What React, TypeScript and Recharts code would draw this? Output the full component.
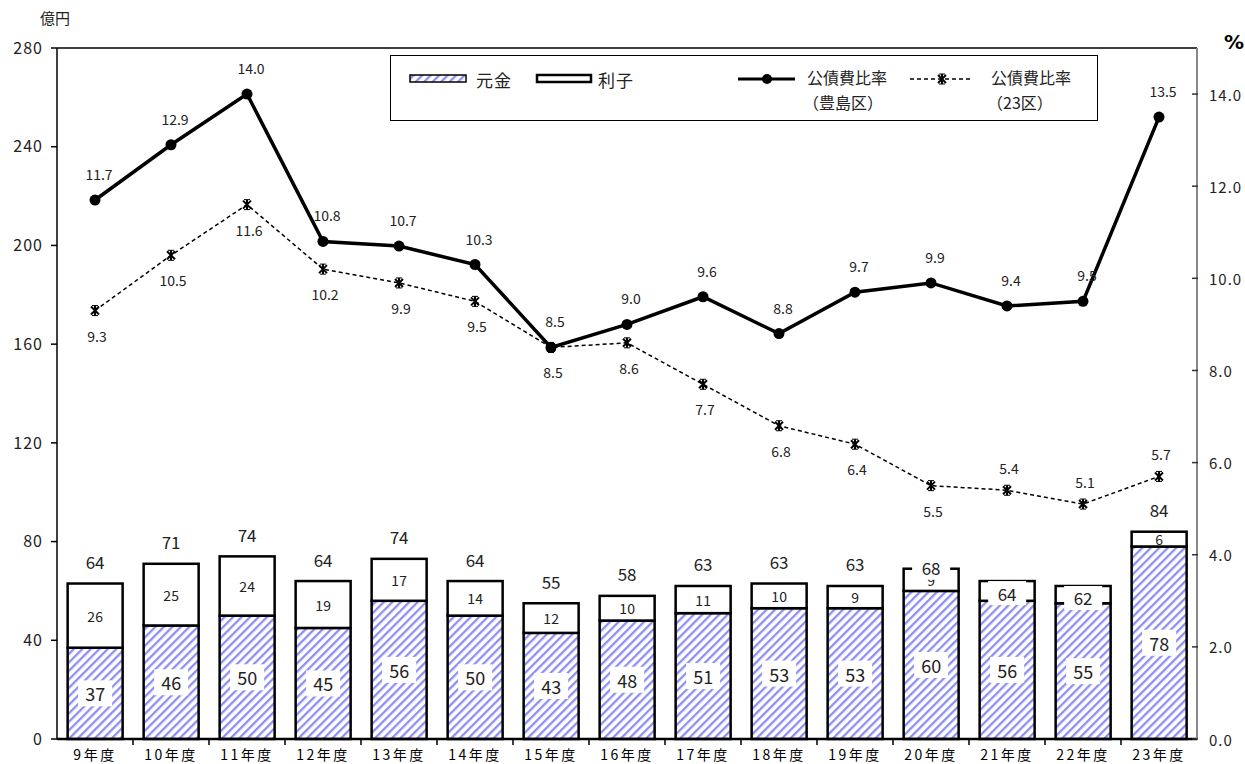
import React from 'react';
import { ComposedChart, Bar, Line, XAxis, YAxis, LabelList, ReferenceLine } from 'recharts';

const years = ['9年度', '10年度', '11年度', '12年度', '13年度', '14年度', '15年度', '16年度', '17年度', '18年度', '19年度', '20年度', '21年度', '22年度', '23年度'];
const principal = [37, 46, 50, 45, 56, 50, 43, 48, 51, 53, 53, 60, 56, 55, 78];
const interest = [26, 25, 24, 19, 17, 14, 12, 10, 11, 10, 9, 9, 8, 7, 6];
const totals = [64, 71, 74, 64, 74, 64, 55, 58, 63, 63, 63, 68, 64, 62, 84];
const toshimaRatio = [11.7, 12.9, 14.0, 10.8, 10.7, 10.3, 8.5, 9.0, 9.6, 8.8, 9.7, 9.9, 9.4, 9.5, 13.5];
const wardsRatio = [9.3, 10.5, 11.6, 10.2, 9.9, 9.5, 8.5, 8.6, 7.7, 6.8, 6.4, 5.5, 5.4, 5.1, 5.7];
const leftTicks = [0, 40, 80, 120, 160, 200, 240, 280];
const rightTicks = [0, 2, 4, 6, 8, 10, 12, 14];

const data = years.map((year, i) => ({
  year,
  principal: principal[i],
  interest: interest[i],
  total: totals[i],
  toshima: toshimaRatio[i],
  wards: wardsRatio[i],
}));

const W = 1245;
const H = 764;
const LEFT_W = 57;
const RIGHT_W = 48;
const TOP = 48;
const XH = 25;
const HALF_BAND = (W - LEFT_W - RIGHT_W) / years.length / 2;
const FONT = "'Noto Sans CJK JP', 'DejaVu Sans', sans-serif";
const HATCH = '#8f8ff2';

// total labels drawn in a white box on the bar top (offset from bar top)
const BOXED_TOTAL: Record<number, number> = { 11: -1, 12: 12, 13: 12 };

const XTick = (props: any) => {
  const { x, y, payload, index } = props;
  return (
    <g>
      <text x={x} y={y + 15} textAnchor="middle" dominantBaseline="central" fontSize={14} letterSpacing={2.5} fill="#000" fontFamily={FONT}>
        {payload.value}
      </text>
      {index < years.length - 1 && (
        <line x1={x + HALF_BAND} y1={y} x2={x + HALF_BAND} y2={y + 6} stroke="#000" strokeWidth={1.5} />
      )}
    </g>
  );
};

const RightTick = (props: any) => {
  const { x, y, payload } = props;
  return (
    <g>
      <line x1={x - 5} y1={y} x2={x + 1} y2={y} stroke="#333" strokeWidth={1.5} />
      <text x={x + 12} y={y} dominantBaseline="central" fontSize={15} letterSpacing={1} fill="#222" fontFamily={FONT}>
        {Number(payload.value).toFixed(1)}
      </text>
    </g>
  );
};

const BarRect = (props: any) => {
  const { x, y, width, height, fill } = props;
  if (x == null || height == null) return null;
  return <rect x={x} y={y} width={width} height={height} fill={fill} stroke="#000" strokeWidth={2.5} />;
};

const PrincipalLabel = (props: any) => {
  const { x, y, width, height, value } = props;
  const cx = x + width / 2;
  const cy = y + height / 2;
  return (
    <g>
      <rect x={cx - 17} y={cy - 13} width={34} height={26} fill="#fff" />
      <text x={cx} y={cy} textAnchor="middle" dominantBaseline="central" fontSize={18} fill="#222" fontFamily={FONT}>
        {value}
      </text>
    </g>
  );
};

const InterestLabel = (props: any) => {
  const { x, y, width, height, value, index } = props;
  if (BOXED_TOTAL[index] !== undefined && BOXED_TOTAL[index] > 0) return null;
  return (
    <text x={x + width / 2} y={y + height / 2} textAnchor="middle" dominantBaseline="central" fontSize={14} fill="#222" fontFamily={FONT}>
      {value}
    </text>
  );
};

const TotalLabel = (props: any) => {
  const { x, y, width, index } = props;
  const cx = x + width / 2;
  const t = totals[index];
  if (BOXED_TOTAL[index] !== undefined) {
    const cy = y + BOXED_TOTAL[index];
    return (
      <g>
        <rect x={cx - 19} y={cy - 12} width={38} height={24} fill="#fff" />
        <text x={cx} y={cy} textAnchor="middle" dominantBaseline="central" fontSize={17} fill="#222" fontFamily={FONT}>
          {t}
        </text>
      </g>
    );
  }
  return (
    <text x={cx} y={y - 22} textAnchor="middle" dominantBaseline="central" fontSize={17} fill="#222" fontFamily={FONT}>
      {t}
    </text>
  );
};

const ToshimaLabel = (props: any) => {
  const { x, y, value } = props;
  return (
    <text x={x + 4} y={y - 26} textAnchor="middle" dominantBaseline="central" fontSize={14} fill="#222" fontFamily={FONT}>
      {Number(value).toFixed(1)}
    </text>
  );
};

const WardsLabel = (props: any) => {
  const { x, y, value, index } = props;
  const above = index >= 12;
  return (
    <text x={x + 2} y={above ? y - 22 : y + 25} textAnchor="middle" dominantBaseline="central" fontSize={14} fill="#222" fontFamily={FONT}>
      {Number(value).toFixed(1)}
    </text>
  );
};

const StarDot = (props: any) => {
  const { cx, cy } = props;
  if (cx == null || cy == null) return null;
  return (
    <g stroke="#000" strokeWidth={2}>
      <line x1={cx - 4} y1={cy - 4} x2={cx + 4} y2={cy + 4} />
      <line x1={cx - 4} y1={cy + 4} x2={cx + 4} y2={cy - 4} />
      <line x1={cx} y1={cy - 5} x2={cx} y2={cy + 5} />
      <line x1={cx - 3} y1={cy - 5} x2={cx + 3} y2={cy - 5} strokeWidth={1} />
      <line x1={cx - 3} y1={cy + 5} x2={cx + 3} y2={cy + 5} strokeWidth={1} />
    </g>
  );
};

const HatchPattern = ({ id }: { id: string }) => (
  <pattern id={id} patternUnits="userSpaceOnUse" width={6} height={6} patternTransform="rotate(45)">
    <rect width={6} height={6} fill="#fff" />
    <line x1={1} y1={0} x2={1} y2={6} stroke={HATCH} strokeWidth={2.6} />
  </pattern>
);

const LegendBox = () => (
  <svg width={708} height={66} style={{ position: 'absolute', left: 390, top: 55 }}>
    <defs>
      <HatchPattern id="hatchLegend" />
    </defs>
    <rect x={0.5} y={0.5} width={707} height={65} fill="#fff" stroke="#000" strokeWidth={1} />
    <rect x={20} y={20} width={56} height={7} fill="url(#hatchLegend)" stroke="#000" strokeWidth={1.5} />
    <text x={86} y={24} dominantBaseline="central" fontSize={17} letterSpacing={1} fontFamily={FONT} fill="#222">元金</text>
    <rect x={147} y={20} width={54} height={7} fill="#fff" stroke="#000" strokeWidth={2.5} />
    <text x={208} y={24} dominantBaseline="central" fontSize={17} letterSpacing={1} fontFamily={FONT} fill="#222">利子</text>
    <line x1={348} y1={24} x2={405} y2={24} stroke="#000" strokeWidth={3} />
    <circle cx={377} cy={24} r={5} fill="#000" />
    <text x={417} y={22} dominantBaseline="central" fontSize={16} fontFamily={FONT} fill="#222">公債費比率</text>
    <text x={413} y={47} dominantBaseline="central" fontSize={16} fontFamily={FONT} fill="#222">（豊島区）</text>
    <line x1={520} y1={24} x2={583} y2={24} stroke="#000" strokeWidth={1.5} strokeDasharray="4 3" />
    <StarDot cx={552} cy={24} />
    <text x={601} y={22} dominantBaseline="central" fontSize={16} fontFamily={FONT} fill="#222">公債費比率</text>
    <text x={597} y={47} dominantBaseline="central" fontSize={16} fontFamily={FONT} fill="#222">（23区）</text>
  </svg>
);

export default function App() {
  return (
    <div style={{ position: 'absolute', left: 0, top: 0, width: W, height: H, background: '#fff', fontFamily: FONT }}>
      <ComposedChart
        width={W}
        height={H}
        data={data}
        margin={{ top: TOP, right: 0, bottom: 0, left: 0 }}
        barCategoryGap="14%"
      >
        <defs>
          <HatchPattern id="hatch" />
        </defs>
        <XAxis
          dataKey="year"
          height={XH}
          tickSize={0}
          tickMargin={0}
          tick={<XTick />}
          axisLine={{ stroke: '#000', strokeWidth: 2.5 }}
          interval={0}
        />
        <YAxis
          yAxisId="left"
          orientation="left"
          width={LEFT_W}
          domain={[0, 280]}
          ticks={leftTicks}
          tickSize={6}
          tickMargin={8}
          axisLine={{ stroke: '#000', strokeWidth: 1.5 }}
          tickLine={{ stroke: '#000', strokeWidth: 1.5 }}
          tick={{ fontSize: 16, fill: '#222', fontFamily: FONT, letterSpacing: 1 }}
          interval={0}
        />
        <YAxis
          yAxisId="right"
          orientation="right"
          width={RIGHT_W}
          domain={[0, 15]}
          ticks={rightTicks}
          tickSize={0}
          tickMargin={0}
          axisLine={{ stroke: '#888', strokeWidth: 2 }}
          tick={<RightTick />}
          interval={0}
        />
        <ReferenceLine yAxisId="left" y={280} stroke="#000" strokeWidth={1.5} />
        <Bar yAxisId="left" dataKey="principal" stackId="a" fill="url(#hatch)" shape={<BarRect />} isAnimationActive={false}>
          <LabelList dataKey="principal" content={<PrincipalLabel />} />
        </Bar>
        <Bar yAxisId="left" dataKey="interest" stackId="a" fill="#fff" shape={<BarRect />} isAnimationActive={false}>
          <LabelList dataKey="interest" content={<InterestLabel />} />
          <LabelList dataKey="total" content={<TotalLabel />} />
        </Bar>
        <Line
          yAxisId="right"
          dataKey="wards"
          stroke="#000"
          strokeWidth={1.5}
          strokeDasharray="4 3"
          dot={<StarDot />}
          activeDot={false}
          isAnimationActive={false}
        >
          <LabelList dataKey="wards" content={<WardsLabel />} />
        </Line>
        <Line
          yAxisId="right"
          dataKey="toshima"
          stroke="#000"
          strokeWidth={3.5}
          dot={{ r: 5.5, fill: '#000', stroke: '#000', strokeWidth: 0 }}
          activeDot={false}
          isAnimationActive={false}
        >
          <LabelList dataKey="toshima" content={<ToshimaLabel />} />
        </Line>
      </ComposedChart>
      <LegendBox />
      <div style={{ position: 'absolute', left: 40, top: 7, fontSize: 15, color: '#222' }}>億円</div>
      <div style={{ position: 'absolute', left: 1224, top: 30, fontSize: 20, fontWeight: 'bold', color: '#000', fontFamily: "'DejaVu Sans', sans-serif" }}>%</div>
    </div>
  );
}
